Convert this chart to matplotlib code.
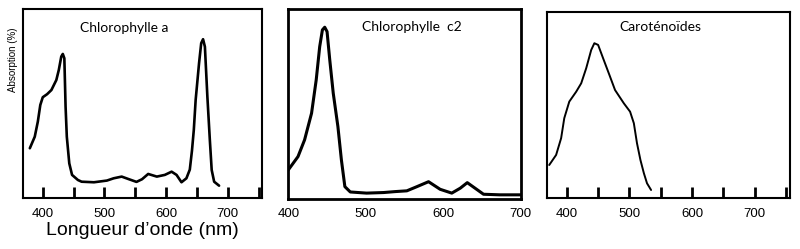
import numpy as np
import matplotlib
matplotlib.use("Agg")
import matplotlib.pyplot as plt

# spectres (longueur d'onde en nm, absorption relative 0..1)
chla_nm = [379, 387, 392, 396, 400, 407, 414, 422, 426, 430, 432.5, 435, 437, 439,
           443, 447.5, 457, 463, 483, 504, 515, 528, 539, 552, 561, 571, 585, 598,
           609, 617, 625, 633, 638.5, 642, 645, 648, 653.5, 657, 660, 663, 667,
           671, 674, 678, 686]
chla_abs = [0.263, 0.324, 0.404, 0.492, 0.533, 0.549, 0.571, 0.624, 0.677, 0.748,
            0.762, 0.739, 0.483, 0.324, 0.183, 0.122, 0.095, 0.086, 0.083, 0.092,
            0.104, 0.113, 0.10, 0.085, 0.099, 0.127, 0.113, 0.122, 0.139, 0.122,
            0.083, 0.104, 0.15, 0.25, 0.36, 0.519, 0.713, 0.819, 0.84, 0.80, 0.536,
            0.307, 0.148, 0.086, 0.065]

chlc2_nm = [400, 412.5, 421, 430, 436, 440.5, 444, 447, 450, 453.5, 458, 464, 468.5,
            473, 480, 501, 523, 538, 553, 566, 581, 596, 611, 622, 631, 641, 652,
            673, 700]
chlc2_abs = [0.154, 0.224, 0.312, 0.452, 0.627, 0.802, 0.89, 0.904, 0.881, 0.732,
             0.557, 0.382, 0.207, 0.066, 0.038, 0.032, 0.035, 0.04, 0.044, 0.066,
             0.092, 0.052, 0.032, 0.058, 0.087, 0.058, 0.026, 0.023, 0.023]

caro_nm = [372, 383, 391, 396, 404, 415, 423, 431, 439, 444, 450, 458, 468, 477,
           491, 501, 507, 512, 517.5, 523, 528, 534.5]
caro_abs = [0.178, 0.232, 0.322, 0.429, 0.518, 0.571, 0.616, 0.697, 0.795, 0.831,
            0.822, 0.75, 0.661, 0.58, 0.509, 0.464, 0.402, 0.295, 0.205, 0.134,
            0.08, 0.044]

titres = ["Chlorophylle a", "Chlorophylle  c2", "Caroténoïdes"]

fig = plt.figure(figsize=(8, 2.49), dpi=100)
fig.patch.set_facecolor("white")

ax1 = fig.add_axes([0.0288, 0.205, 0.299, 0.759])
ax2 = fig.add_axes([0.3604, 0.200, 0.2905, 0.764])
ax3 = fig.add_axes([0.6834, 0.204, 0.304, 0.749])

titre_font = dict(family=["Lato", "DejaVu Sans"], fontsize=10)

for ax, nm, ab, lw in [(ax1, chla_nm, chla_abs, 1.9), (ax3, caro_nm, caro_abs, 1.4)]:
    ax.plot(nm, ab, color="black", lw=lw, solid_joinstyle="round", solid_capstyle="round")
    ax.set_xlim(368, 756)
    ax.set_ylim(0, 1)
    ax.set_xticks(np.arange(400, 751, 50))
    ax.set_xticklabels(["400", "", "500", "", "600", "", "700", ""])
    ax.tick_params(axis="x", direction="in", length=8, width=2, labelsize=9.5, pad=7)
    ax.set_yticks([])
    for s in ax.spines.values():
        s.set_linewidth(1.5)

ax2.plot(chlc2_nm, chlc2_abs, color="black", lw=2.2, solid_joinstyle="round")
ax2.set_xlim(400, 700)
ax2.set_ylim(0, 1)
ax2.set_xticks([400, 500, 600, 700])
ax2.tick_params(axis="x", length=0, labelsize=9.5, pad=6)
ax2.set_yticks([])
for s in ax2.spines.values():
    s.set_linewidth(2)

for t in ax1.get_xticklabels() + ax2.get_xticklabels() + ax3.get_xticklabels():
    t.set_family(["Liberation Sans", "DejaVu Sans"])

ax1.text(0.423, 0.90, titres[0], transform=ax1.transAxes, ha="center", va="center", **titre_font)
ax2.text(0.531, 0.907, titres[1], transform=ax2.transAxes, ha="center", va="center", **titre_font)
ax3.text(0.466, 0.92, titres[2], transform=ax3.transAxes, ha="center", va="center", **titre_font)

fig.text(0.016, 0.76, "Absorption (%)", rotation=90, ha="center", va="center",
         family=["Liberation Sans", "DejaVu Sans"], fontsize=7)
fig.text(0.178, 0.075, "Longueur d\u2019onde (nm)", ha="center", va="center",
         family=["Liberation Sans", "DejaVu Sans"], fontsize=14)

fig.savefig("out.png", dpi=100, facecolor="white")
